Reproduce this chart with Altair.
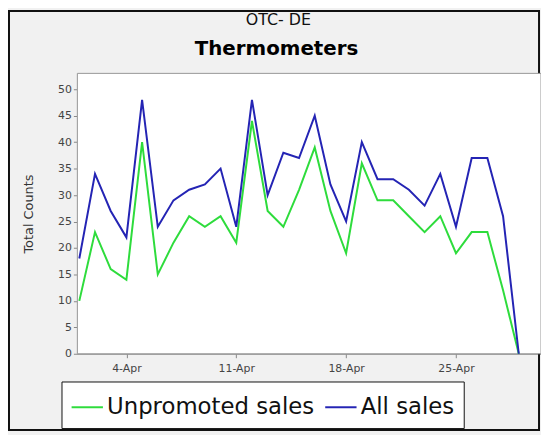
import altair as alt
import pandas as pd

days = [f"2010-04-{d:02d}" for d in range(1, 30)]
unpromoted = [10, 23, 16, 14, 40, 15, 21, 26, 24, 26, 21, 44, 27, 24, 31, 39, 27, 19, 36, 29, 29, 26, 23, 26, 19, 23, 23, 12, 0]
all_sales = [18, 34, 27, 22, 48, 24, 29, 31, 32, 35, 24, 48, 30, 38, 37, 45, 32, 25, 40, 33, 33, 31, 28, 34, 24, 37, 37, 26, 0]
series_names = ["Unpromoted sales", "All sales"]
series_colors = ["#2edc3c", "#2424b4"]
title_text = "OTC- DE"
subtitle_text = "Thermometers"

rows = []
for name, vals in zip(series_names, [unpromoted, all_sales]):
    for d, v in zip(days, vals):
        rows.append({"date": d, "series": name, "value": v, "order": series_names.index(name)})
df = pd.DataFrame(rows)
one = pd.DataFrame({"k": [0]})

W, H = 468, 283

tick_values = [alt.DateTime(year=2010, month=4, date=d, utc=True) for d in (4, 11, 18, 25)]

lines = alt.Chart(df).mark_line(strokeWidth=2).encode(
    x=alt.X("date:T", title=None,
            scale=alt.Scale(type="utc",
                            domain=[alt.DateTime(year=2010, month=3, date=31, hours=21, utc=True),
                                    alt.DateTime(year=2010, month=4, date=30, hours=10, utc=True)]),
            axis=alt.Axis(values=tick_values, format="%-d-%b", labelFontSize=11,
                          labelColor="#444", tickColor="#888", domainColor="#888",
                          gridColor="#ececec", tickSize=4, labelPadding=5)),
    y=alt.Y("value:Q", title="Total Counts",
            scale=alt.Scale(domain=[0, 53], nice=False),
            axis=alt.Axis(values=list(range(0, 51, 5)), labelFontSize=11, labelColor="#444",
                          tickColor="#888", domainColor="#888", gridColor="#ececec",
                          tickSize=4, titleFontSize=13, titleFontWeight="normal",
                          titleColor="#333", titlePadding=22)),
    color=alt.Color("series:N",
                    scale=alt.Scale(domain=series_names, range=series_colors),
                    legend=alt.Legend(title=None, orient="none", legendX=-16, legendY=311,
                                      direction="horizontal", labelFontSize=23,
                                      labelColor="#111", labelLimit=400, symbolType="stroke",
                                      symbolSize=1000, symbolStrokeWidth=2,
                                      strokeColor="#111", fillColor="white",
                                      padding=9, columnPadding=6, labelOffset=3)),
    detail="order:N",
)

plot_bg = alt.Chart(one).mark_rect(fill="white", stroke="#999", strokeWidth=1).encode(
    x=alt.value(0), x2=alt.value(W),
    y=alt.value(0), y2=alt.value(H),
)

frame = alt.Chart(one).mark_rect(filled=False, fill="transparent", stroke="#111", strokeWidth=2).encode(
    x=alt.value(-69), x2=alt.value(W - 2),
    y=alt.value(-63), y2=alt.value(H + 77),
)

title1 = alt.Chart(one).mark_text(fontSize=16, color="#111", font="DejaVu Sans",
                                  baseline="middle", align="center").encode(
    x=alt.value(203), y=alt.value(-54), text=alt.value(title_text))

title2 = alt.Chart(one).mark_text(fontSize=20, fontWeight="bold", color="#000",
                                  font="DejaVu Sans", baseline="middle", align="center").encode(
    x=alt.value(201), y=alt.value(-25), text=alt.value(subtitle_text))

chart = alt.layer(frame, plot_bg, lines, title1, title2).properties(
    width=W, height=H,
    autosize=alt.AutoSizeParams(type="none"),
    padding={"left": 70, "top": 64, "right": 0, "bottom": 80},
    background="#f1f1f1",
).configure_view(stroke=None).configure(font="DejaVu Sans")

chart.save("out.html", embed_options={"renderer": "svg", "actions": False})
